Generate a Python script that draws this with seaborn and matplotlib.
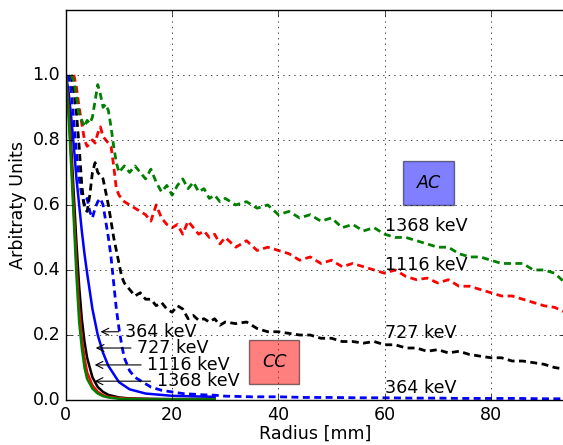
import matplotlib
matplotlib.use("Agg")
import matplotlib.pyplot as plt
import seaborn as sns

# ---------------------------------------------------------------------------
# Data (radius in mm, intensity in arbitrary units)
# ---------------------------------------------------------------------------
energies = ["364 keV", "727 keV", "1116 keV", "1368 keV"]
colors = ["blue", "black", "red", "green"]

# CC profiles (solid)
cc_x = [0, 0.5, 1, 1.5, 2, 2.5, 3, 3.5, 4, 5, 6, 7, 8, 10, 12, 15, 20, 25, 28]
cc_364 = [1.0, 0.95, 0.87, 0.78, 0.68, 0.60, 0.52, 0.45, 0.39, 0.28, 0.20, 0.145,
          0.105, 0.055, 0.033, 0.02, 0.013, 0.011, 0.01]
cc_727 = [1.0, 0.91, 0.78, 0.63, 0.48, 0.35, 0.25, 0.18, 0.13, 0.07, 0.04, 0.025,
          0.016, 0.008, 0.005, 0.004, 0.003, 0.003, 0.003]
cc_1116 = [1.0, 0.90, 0.75, 0.58, 0.42, 0.28, 0.19, 0.13, 0.085, 0.045, 0.025, 0.015,
           0.01, 0.006, 0.004, 0.003, 0.002, 0.002, 0.002]
cc_1368 = [1.0, 0.88, 0.72, 0.55, 0.38, 0.24, 0.16, 0.10, 0.065, 0.035, 0.02, 0.012,
           0.008, 0.004, 0.003, 0.002, 0.002, 0.002, 0.002]

# AC profiles (dashed)
ac_364_x = [0.5, 1, 1.5, 2, 2.5, 3, 3.5, 4, 4.5, 5, 5.5, 6, 6.5, 7, 7.5, 8, 8.5, 9,
            9.5, 10, 10.5, 11, 12, 13, 14, 15, 16, 17, 18, 20, 22, 24, 26, 28, 30,
            35, 40, 45, 50, 55, 60, 65, 70, 75, 80, 85, 90, 94]
ac_364 = [1.0, 0.95, 0.86, 0.76, 0.68, 0.63, 0.60, 0.62, 0.58, 0.56, 0.59, 0.61,
          0.62, 0.60, 0.55, 0.50, 0.44, 0.36, 0.28, 0.22, 0.17, 0.13, 0.09, 0.07,
          0.06, 0.05, 0.04, 0.035, 0.03, 0.025, 0.02, 0.018, 0.016, 0.015, 0.012,
          0.01, 0.01, 0.008, 0.008, 0.007, 0.007, 0.006, 0.006, 0.005, 0.005,
          0.005, 0.004, 0.004]

ac_727_x = [1, 1.5, 2, 2.5, 3, 3.5, 4, 4.5, 5, 5.5, 6, 6.5, 7, 7.5, 8, 8.5, 9, 9.5,
            10, 10.5, 11, 12, 13, 14, 15, 16, 17, 18, 19, 20, 21, 22, 23, 24, 25,
            26, 27, 28, 29, 30, 32, 34, 36, 38, 40, 42, 44, 46, 48, 50, 52, 54, 56,
            58, 60, 62, 64, 66, 68, 70, 72, 74, 76, 78, 80, 82, 84, 86, 88, 90, 92,
            94]
ac_727 = [1.0, 0.95, 0.88, 0.78, 0.66, 0.59, 0.58, 0.63, 0.70, 0.73, 0.70, 0.69,
          0.68, 0.64, 0.60, 0.55, 0.50, 0.46, 0.42, 0.38, 0.36, 0.34, 0.32, 0.33,
          0.31, 0.31, 0.29, 0.30, 0.28, 0.27, 0.29, 0.28, 0.25, 0.26, 0.245, 0.25,
          0.24, 0.25, 0.23, 0.24, 0.235, 0.24, 0.22, 0.21, 0.21, 0.205, 0.20, 0.20,
          0.19, 0.19, 0.18, 0.18, 0.175, 0.18, 0.17, 0.17, 0.16, 0.16, 0.15, 0.155,
          0.145, 0.15, 0.14, 0.135, 0.13, 0.13, 0.12, 0.12, 0.115, 0.11, 0.10,
          0.095]

ac_1116_x = [1.5, 2, 2.5, 3, 3.5, 4, 4.5, 5, 5.5, 6, 6.5, 7, 7.5, 8, 8.5, 9, 9.5,
             10, 11, 12, 13, 14, 15, 16, 17, 18, 19, 20, 21, 22, 23, 24, 25, 26, 27,
             28, 29, 30, 32, 34, 36, 38, 40, 42, 44, 46, 48, 50, 52, 54, 56, 58, 60,
             62, 64, 66, 68, 70, 72, 74, 76, 78, 80, 82, 84, 86, 88, 90, 92, 94]
ac_1116 = [1.0, 0.96, 0.90, 0.85, 0.80, 0.78, 0.79, 0.80, 0.79, 0.82, 0.84, 0.81,
           0.80, 0.79, 0.78, 0.72, 0.65, 0.63, 0.61, 0.60, 0.59, 0.58, 0.57, 0.55,
           0.60, 0.56, 0.54, 0.53, 0.54, 0.51, 0.55, 0.53, 0.51, 0.52, 0.50, 0.51,
           0.48, 0.50, 0.47, 0.49, 0.46, 0.47, 0.46, 0.45, 0.43, 0.44, 0.42, 0.43,
           0.41, 0.42, 0.41, 0.40, 0.39, 0.40, 0.38, 0.37, 0.375, 0.36, 0.37, 0.35,
           0.35, 0.34, 0.33, 0.32, 0.32, 0.31, 0.30, 0.29, 0.285, 0.27]

ac_1368_x = [1, 1.5, 2, 2.5, 3, 3.5, 4, 4.5, 5, 5.5, 6, 6.5, 7, 7.5, 8, 8.5, 9, 9.5,
             10, 11, 12, 13, 14, 15, 16, 17, 18, 19, 20, 21, 22, 23, 24, 25, 26, 27,
             28, 29, 30, 32, 34, 36, 38, 40, 42, 44, 46, 48, 50, 52, 54, 56, 58, 60,
             62, 64, 66, 68, 70, 72, 74, 76, 78, 80, 82, 84, 86, 88, 90, 92, 94]
ac_1368 = [1.0, 0.98, 0.93, 0.88, 0.86, 0.84, 0.86, 0.85, 0.87, 0.92, 0.97, 0.94,
           0.90, 0.91, 0.89, 0.84, 0.78, 0.73, 0.70, 0.72, 0.70, 0.72, 0.70, 0.68,
           0.71, 0.67, 0.64, 0.66, 0.63, 0.66, 0.68, 0.65, 0.67, 0.64, 0.65, 0.62,
           0.63, 0.61, 0.62, 0.60, 0.61, 0.59, 0.60, 0.57, 0.58, 0.56, 0.57, 0.55,
           0.56, 0.53, 0.54, 0.52, 0.53, 0.51, 0.50, 0.50, 0.49, 0.48, 0.47, 0.47,
           0.45, 0.44, 0.44, 0.43, 0.42, 0.42, 0.42, 0.40, 0.40, 0.39, 0.36]

# arrow labels for CC curves: (text x, arrow tip x, y)
cc_text_x = [11.1, 13.4, 15.3, 17.1]
cc_tip_x = [6.0, 5.1, 4.9, 4.9]
cc_label_y = [0.21, 0.16, 0.108, 0.058]

# labels for AC curves, at x = 60
ac_label_y = [0.037, 0.206, 0.415, 0.535]

# ---------------------------------------------------------------------------
# Plot
# ---------------------------------------------------------------------------
plt.style.use("classic")
plt.rcParams["lines.scale_dashes"] = False
plt.rcParams["font.family"] = ["DejaVu Sans"]
FS = 12.6

fig = plt.figure(figsize=(5.63, 4.45), dpi=100, facecolor="white")
ax = fig.add_axes([0.117, 0.101, 0.887, 0.877])

cc_series = [cc_364, cc_727, cc_1116, cc_1368]
ac_series = [(ac_364_x, ac_364), (ac_727_x, ac_727),
             (ac_1116_x, ac_1116), (ac_1368_x, ac_1368)]

for (xs, ys), c in zip(ac_series, colors):
    sns.lineplot(x=xs, y=ys, color=c, linestyle=(0, (5, 3.2)), linewidth=2,
                 estimator=None, sort=False, ax=ax)

# draw solid curves in order blue, black, red, green (green on top)
for ys, c in zip(cc_series, colors):
    sns.lineplot(x=cc_x, y=ys, color=c, linewidth=1.8,
                 estimator=None, sort=False, ax=ax)

for lab, tx, tip, y in zip(energies, cc_text_x, cc_tip_x, cc_label_y):
    ax.annotate(lab, xy=(tip, y), xytext=(tx, y), va="center", fontsize=FS,
                arrowprops=dict(arrowstyle="->", color="black", lw=0.8))

for lab, y in zip(energies, ac_label_y):
    ax.text(60, y, lab, va="center", ha="left", fontsize=FS)

ax.text(68.3, 0.668, "AC", style="italic", fontsize=FS, ha="center", va="center",
        bbox=dict(boxstyle="square,pad=0.75", facecolor="blue", alpha=0.5))
ax.text(39.2, 0.117, "CC", style="italic", fontsize=FS, ha="center", va="center",
        bbox=dict(boxstyle="square,pad=0.75", facecolor="red", alpha=0.5))

ax.set_xlim(0, 94)
ax.set_ylim(0, 1.2)
ax.set_xticks([0, 20, 40, 60, 80])
ax.set_yticks([0.0, 0.2, 0.4, 0.6, 0.8, 1.0])
ax.grid(True)
ax.set_xlabel("Radius [mm]", fontsize=FS, labelpad=1)
ax.set_ylabel("Arbitraty Units", fontsize=FS, labelpad=4)
ax.tick_params(labelsize=FS)

fig.savefig("out.png", dpi=100, facecolor="white")
